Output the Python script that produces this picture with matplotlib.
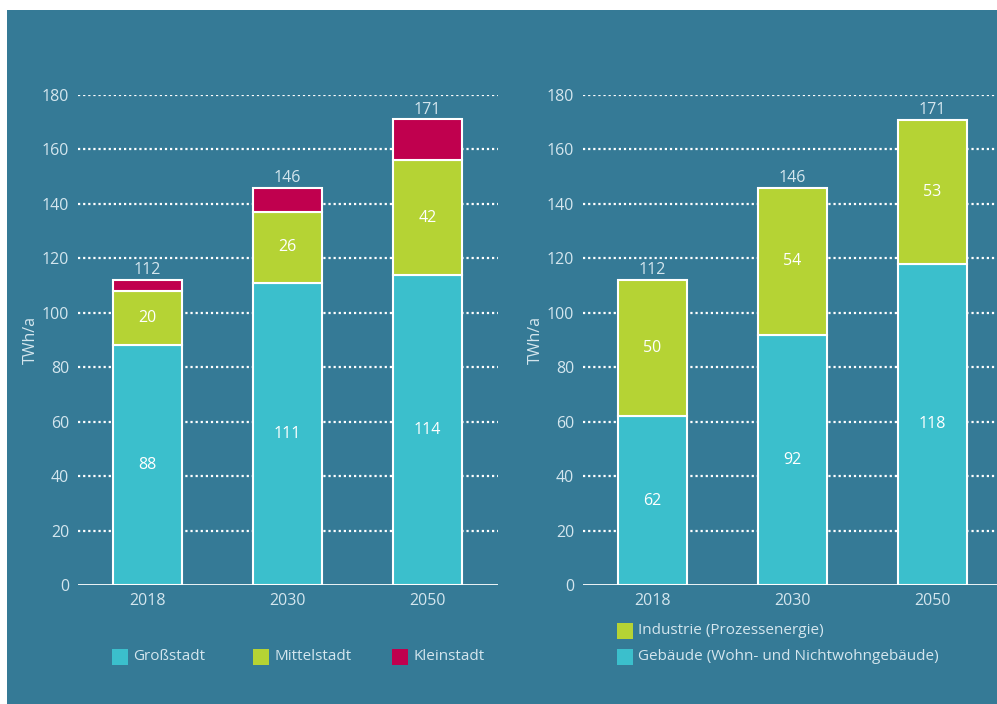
import matplotlib
matplotlib.use('Agg')
import matplotlib.pyplot as plt
from matplotlib.patches import Rectangle
import numpy as np

# data
years = ['2018', '2030', '2050']
grossstadt = [88, 111, 114]
mittelstadt = [20, 26, 42]
kleinstadt = [4, 9, 15]
totals_left = [112, 146, 171]

gebaeude = [62, 92, 118]
industrie = [50, 54, 53]
totals_right = [112, 146, 171]

BG = '#357a96'
CYAN = '#3bbfcc'
LIME = '#b5d334'
MAGENTA = '#c0004e'
TXT = '#d4e6ee'
FS = 11.5

plt.rcParams['font.family'] = ['Open Sans', 'DejaVu Sans']
plt.rcParams['font.size'] = FS

W, H = 997, 704
fig = plt.figure(figsize=(W / 100, H / 100), dpi=100)
fig.patch.set_facecolor('white')
fig.add_artist(Rectangle((7 / W, 0), (W - 7) / W, (H - 10) / H,
                         transform=fig.transFigure, facecolor=BG,
                         edgecolor='none', zorder=-10))


def px_axes(left, right):
    # axes placed in pixel units; y from 0 (585 px) to 180 (95 px)
    return fig.add_axes([left / W, (H - 585) / H, (right - left) / W, 490 / H])


def style(ax, xmax):
    ax.set_facecolor('none')
    ax.set_xlim(-0.5, xmax)
    ax.set_ylim(0, 180)
    for s in ax.spines.values():
        s.set_visible(False)
    ax.axhline(0, color='white', lw=2, zorder=1)
    for v in range(20, 181, 20):
        ax.axhline(v, color='white', lw=1.6, ls=(0, (1, 1.3)), zorder=0)
    ax.set_yticks(range(0, 181, 20))
    ax.set_xticks(range(len(years)))
    ax.set_xticklabels(years)
    ax.tick_params(length=0, colors=TXT, labelsize=FS)
    ax.tick_params(axis='y', pad=6)
    ax.tick_params(axis='x', pad=6)
    ax.set_ylabel('TWh/a', color=TXT, fontsize=FS, labelpad=2)


x = np.arange(len(years))
bw = 0.49
bar_kw = dict(width=bw, edgecolor='white', linewidth=1.5, zorder=2)

# left chart
ax1 = px_axes(77.5, 497.5)
style(ax1, 2.5)
ax1.bar(x, grossstadt, color=CYAN, **bar_kw)
ax1.bar(x, mittelstadt, bottom=grossstadt, color=LIME, **bar_kw)
b2 = np.array(grossstadt) + np.array(mittelstadt)
ax1.bar(x, kleinstadt, bottom=b2, color=MAGENTA, **bar_kw)
for i in x:
    ax1.text(i, grossstadt[i] / 2, str(grossstadt[i]), ha='center', va='center',
             color='white', fontsize=FS)
    ax1.text(i, grossstadt[i] + mittelstadt[i] / 2, str(mittelstadt[i]),
             ha='center', va='center', color='white', fontsize=FS)
    ax1.text(i, totals_left[i] + 0.6, str(totals_left[i]), ha='center',
             va='bottom', color=TXT, fontsize=FS)

# right chart
ax2 = px_axes(582.5, 997)
style(ax2, -0.5 + (997 - 582.5) / 140)
ax2.bar(x, gebaeude, color=CYAN, **bar_kw)
ax2.bar(x, industrie, bottom=gebaeude, color=LIME, **bar_kw)
for i in x:
    ax2.text(i, gebaeude[i] / 2, str(gebaeude[i]), ha='center', va='center',
             color='white', fontsize=FS)
    ax2.text(i, gebaeude[i] + industrie[i] / 2, str(industrie[i]),
             ha='center', va='center', color='white', fontsize=FS)
    ax2.text(i, totals_right[i] + 0.6, str(totals_right[i]), ha='center',
             va='bottom', color=TXT, fontsize=FS)


# legends
def legend_item(xp, yp, color, label):
    fig.add_artist(Rectangle((xp / W, (H - yp - 8) / H), 16 / W, 16 / H,
                             transform=fig.transFigure, facecolor=color,
                             edgecolor='none'))
    fig.text((xp + 21) / W, (H - yp) / H, label, color=TXT, fontsize=11,
             va='center', ha='left')


legend_item(112, 657, CYAN, 'Großstadt')
legend_item(253, 657, LIME, 'Mittelstadt')
legend_item(392, 657, MAGENTA, 'Kleinstadt')
legend_item(617, 631, LIME, 'Industrie (Prozessenergie)')
legend_item(617, 657, CYAN, 'Gebäude (Wohn- und Nichtwohngebäude)')

fig.savefig('out.png', dpi=100, facecolor=fig.get_facecolor())
